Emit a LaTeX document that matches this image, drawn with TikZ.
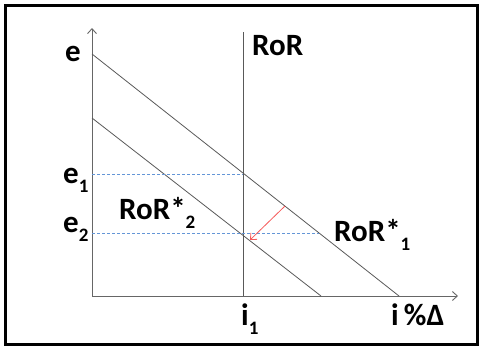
\documentclass[tikz,border=0pt]{standalone}
\usepackage{fontspec}
\setmainfont{Carlito}
\usetikzlibrary{arrows.meta,positioning}

\definecolor{levelblue}{RGB}{100,150,215}
\definecolor{movered}{RGB}{245,90,90}
\newcommand\lowidx[1]{\raisebox{-9pt}{\fontsize{19}{20}\selectfont #1}}

\begin{document}
\begin{tikzpicture}[x=1pt,y=-1pt,>={Straight Barb[length=5pt,width=9pt]}]
\tikzset{
	axis/.style={draw=black!60,line width=0.9pt},
	rorline/.style={draw=black!65,line width=0.8pt},
	level/.style={draw=levelblue,dash pattern=on 3pt off 2pt,line width=0.8pt},
	moveline/.style={->,draw=movered,line width=0.8pt},
	lbl/.style={inner sep=0pt,font=\fontsize{31}{34}\selectfont\bfseries}
}
\useasboundingbox (0,0) rectangle (479,348);
\draw[line width=3pt] (5,5) rectangle (477,344);

% axes
\coordinate (O) at (92,296);
\coordinate (ytop) at (92,28);
\coordinate (xend) at (458,296);
\draw[axis,->] (O) -- (ytop);
\draw[axis,->] (O) -- (xend);

% lines
\coordinate (rtop) at (243,32);
\coordinate (rbot) at (243,296);
\coordinate (a1) at (92,54);
\coordinate (b1) at (399,296);
\coordinate (a2) at (92,118);
\coordinate (b2) at (321,296);
\draw[rorline] (rbot) -- (rtop);
\draw[rorline] (a1) -- (b1);
\draw[rorline] (a2) -- (b2);

% levels
\coordinate (y1) at (92,174.5);
\coordinate (p1) at (243,174.5);
\coordinate (y2) at (92,233.5);
\coordinate (p2) at (319,233.5);
\draw[level] (y1) -- (p1);
\draw[level] (y2) -- (p2);

% shift
\coordinate (s1) at (285,206);
\coordinate (s2) at (250,240);
\draw[moveline] (s1) -- (s2);

% labels
\node[lbl] (ey) at (73,54) {e};
\node[lbl,anchor=base west] (ror) at (252,55) {RoR};
\node[lbl,anchor=base west] (e1) at (63,183) {e\lowidx{1}};
\node[lbl,anchor=base west] (e2) at (63,232) {e\lowidx{2}};
\node[lbl,anchor=base west] (ror2) at (119,219) {RoR*\lowidx{2}};
\node[lbl,anchor=base west] (ror1) at (334,241) {RoR*\lowidx{1}};
\node[lbl,anchor=base west] (i1) at (241,325) {i\lowidx{1}};
\node[lbl,anchor=base west] (ix) at (391,325) {i\,\%Δ};
\end{tikzpicture}
\end{document}
